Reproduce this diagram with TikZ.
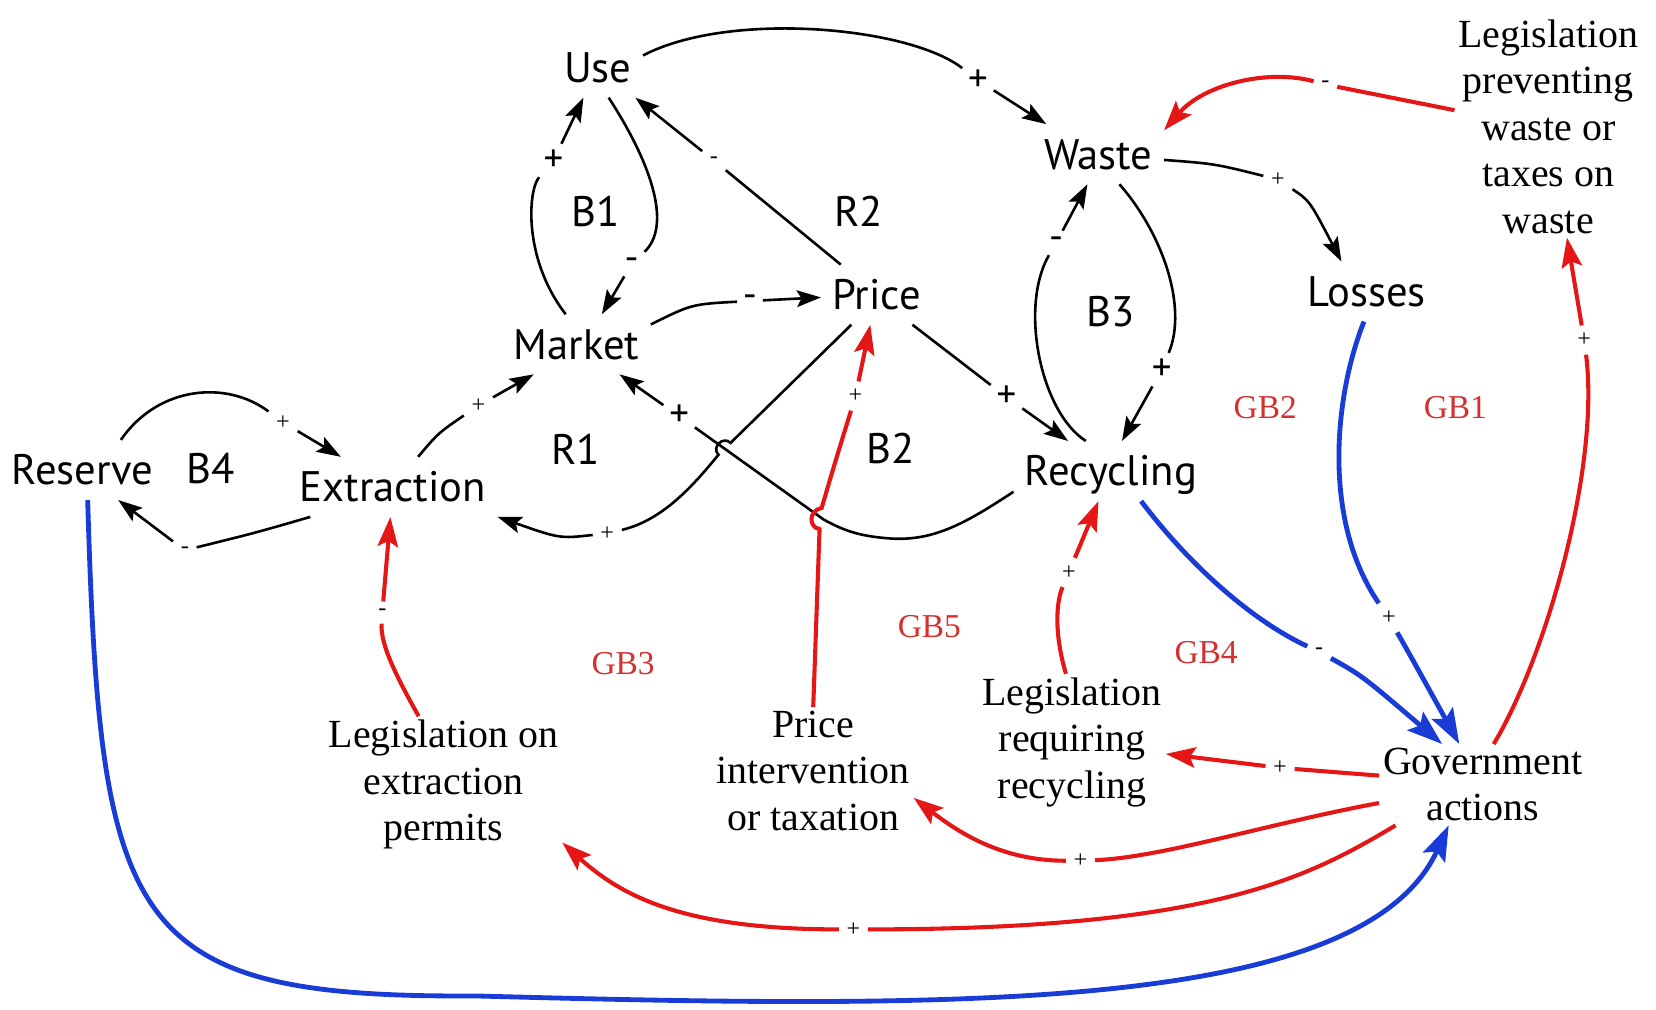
\documentclass[tikz,border=0pt]{standalone}
\usepackage{fontspec}
\setmainfont{Liberation Serif}
\newfontfamily\sansf{PT Sans}
\usetikzlibrary{arrows.meta}
\definecolor{cred}{RGB}{228,22,22}
\definecolor{cblue}{RGB}{25,60,215}
\definecolor{gbred}{RGB}{212,48,48}
\begin{document}
\begin{tikzpicture}[x=0.02cm,y=-0.02cm,
  var/.style={font=\sansf\fontsize{23}{26}\selectfont, inner sep=6pt, text height=18pt, text depth=2pt},
  loopl/.style={font=\sansf\fontsize{23}{26}\selectfont},
  gbl/.style={font=\fontsize{18}{20}\selectfont, text=gbred},
  pol/.style={font=\fontsize{13}{14}\selectfont, inner sep=4pt},
  bpol/.style={font=\sansf\fontsize{21}{21}\selectfont, inner sep=3pt},
  ser/.style={font=\fontsize{21.5}{25}\selectfont, align=center, inner sep=2pt},
  blk/.style={line width=1.4pt, -{Stealth[length=13pt,width=9pt,inset=2.5pt]}},
  redl/.style={cred, line width=2.2pt, -{Stealth[length=16pt,width=11pt,inset=3pt]}},
  bluel/.style={cblue, line width=2.6pt, -{Stealth[length=19pt,width=13pt,inset=3.5pt]}}]
\useasboundingbox (0,0) rectangle (1568,955.4);
% variables
\node[var] (use) at (566,64) {Use};
\node[var] (waste) at (1040,146) {Waste};
\node[var] (price) at (830,279) {Price};
\node[var] (market) at (546,326) {Market};
\node[var] (losses) at (1294,276) {Losses};
\node[var] (reserve) at (78,445) {Reserve};
\node[var] (extraction) at (372,461) {Extraction};
\node[var] (recycling) at (1052,446) {Recycling};
% loop labels
\node[loopl] (B1) at (564,200) {B1};
\node[loopl] (R2) at (813,200) {R2};
\node[loopl] (B3) at (1052,295) {B3};
\node[loopl] (R1) at (545,425) {R1};
\node[loopl] (B2) at (843,425) {B2};
\node[loopl] (B4) at (199,444) {B4};
\node[gbl] (GB2) at (1198,386) {GB2};
\node[gbl] (GB1) at (1378,386) {GB1};
\node[gbl] (GB3) at (590,628) {GB3};
\node[gbl] (GB5) at (880,593) {GB5};
\node[gbl] (GB4) at (1142,618) {GB4};
% policy nodes
\node[ser] (legwaste) at (1466,120) {Legislation\\preventing\\waste or\\taxes on\\waste};
\node[ser] (legext) at (420,743) {Legislation on\\extraction\\permits};
\node[ser] (priceint) at (770,730) {Price\\intervention\\or taxation};
\node[ser] (legrec) at (1015,703) {Legislation\\requiring\\recycling};
\node[ser] (gov) at (1404,743) {Government\\actions};
% polarity labels
\node[bpol] (l1) at (926,76) {+};
\node[bpol] (l2) at (524,152) {+};
\node[bpol] (l3) at (598,250) {-};
\node[pol] (l4) at (676,152) {-};
\node[bpol] (l5) at (710,285) {-};
\node[pol] (l6) at (453,384) {+};
\node[bpol] (l7) at (643,394) {+};
\node[pol] (l8) at (575,505) {+};
\node[bpol] (l9) at (953,376) {+};
\node[bpol] (l10) at (1000,230) {-};
\node[bpol] (l11) at (1100,350) {+};
\node[pol] (l12) at (1210,170) {+};
\node[pol] (l13) at (268,400) {+};
\node[pol] (l14) at (175,521) {-};
\node[pol] (r1) at (1255,80) {-};
\node[pol] (r2) at (1500,322) {+};
\node[pol] (r3) at (362,580) {-};
\node[pol] (r4) at (810,375) {+};
\node[pol] (r5) at (1012,542) {+};
\node[pol] (r6) at (1212,727) {+};
\node[pol] (r7) at (1023,815) {+};
\node[pol] (r8) at (808,880) {+};
\node[pol] (b1l) at (1249,617) {-};
\node[pol] (b2l) at (1315,585) {+};
% black links
\draw[blk] (use.15) .. controls (690,10) and (860,25) .. (l1) -- (waste.150);
\draw[blk] (market.110) .. controls (495,245) and (500,180) .. (l2) -- (use);
\draw[blk] (use.-70) .. controls (620,160) and (635,215) .. (l3) -- (market.50);
\draw[blk] (price.140) -- (l4) -- (use);
\draw[blk] (market.15) .. controls (655,288) .. (l5) -- (price);
\draw[blk] (extraction.50) .. controls (415,410) .. (l6) -- (market.-145);
\draw[blk] (recycling.192) .. controls (915,495) and (885,512) .. (845,510) .. controls (815,508) and (800,503) .. (780,492) -- (l7) -- (market.-35);
\draw[blk] (price.-130) -- (691.7,419.4) .. controls (684.7,412.3) and (673.3,423.5) .. (680.3,430.6) .. controls (660,455) and (630,492) .. (l8) .. controls (530,510) .. (extraction.south east);
\draw[blk] (price.-40) -- (l9) -- (recycling.145);
\draw[blk] (recycling.130) .. controls (985,390) and (965,290) .. (l10) -- (waste.-110);
\draw[blk] (waste.-55) .. controls (1100,220) and (1125,290) .. (l11) -- (recycling.70);
\draw[blk] (waste.-5) .. controls (1150,155) .. (l12) .. controls (1240,190) .. (losses.130);
\draw[blk] (reserve.38) .. controls (150,365) and (215,360) .. (l13) -- (extraction.150);
\draw[blk] (extraction.-160) .. controls (240,505) .. (l14) -- (reserve.-40);
% red links
\draw[redl] (legwaste.170) -- (r1) .. controls (1200,65) and (1140,80) .. (waste.20);
\draw[redl] (gov.75) .. controls (1465,620) and (1515,440) .. (r2) -- (legwaste);
\draw[redl] (legext.110) .. controls (375,640) and (360,610) .. (r3) -- (extraction);
\draw[redl] (priceint.north) -- (776,501) .. controls (765,499) and (766,483) .. (778,481) .. controls (790,440) .. (r4) -- (price);
\draw[redl] (legrec.95) .. controls (998,600) and (1000,570) .. (r5) -- (recycling);
\draw[redl] (gov.175) -- (r6) -- (legrec);
\draw[redl] (gov.190) .. controls (1200,780) and (1100,812) .. (r7) .. controls (950,815) and (910,790) .. (priceint.-15);
\draw[redl] (gov.205) .. controls (1240,830) and (1150,880) .. (r8) .. controls (650,880) and (590,850) .. (legext.-26);
% blue links
\draw[bluel] (recycling.-45) .. controls (1130,540) and (1190,590) .. (b1l) .. controls (1290,640) .. (gov.135);
\draw[bluel] (losses.-95) .. controls (1265,370) and (1250,490) .. (b2l) .. controls (1335,620) .. (gov.120);
\draw[bluel] (reserve.-80) .. controls (95,880) and (120,945) .. (450,943) .. controls (900,955) and (1290,960) .. (gov.-130);
\end{tikzpicture}
\end{document}
